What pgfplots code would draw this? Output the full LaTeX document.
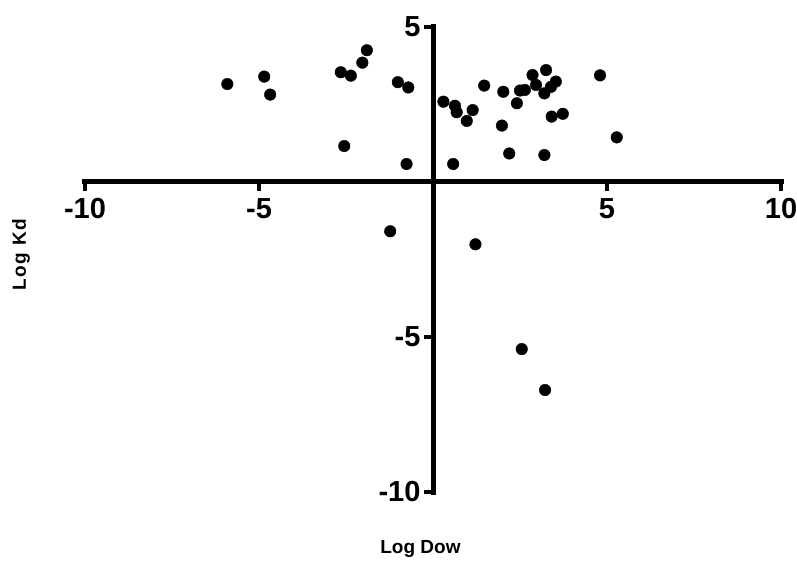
\documentclass[border=0pt]{standalone}
\usepackage{pgfplots}
\pgfplotsset{compat=1.18}
\usepackage{fontspec}
\setmainfont{Liberation Sans}
\begin{document}
\begin{tikzpicture}
\useasboundingbox (-85bp,-70bp) rectangle (712bp,492bp);
\begin{axis}[
    scale only axis,
    width=696bp, height=465bp,
    xmin=-10, xmax=10, ymin=-10, ymax=5,
    axis lines=middle,
    axis line style={-, line width=5bp, line cap=rect},
    xtick={-10,-5,5,10},
    ytick={-10,-5,5},
    tick align=outside,
    major tick length=9bp,
    tick style={line width=4bp, black},
    ticklabel style={font=\fontsize{29bp}{30bp}\selectfont\bfseries},
    /pgf/number format/assume math mode=true,
    xticklabel style={yshift=-4bp},
    xlabel={Log Dow},
    ylabel={\addfontfeature{LetterSpace=8}Log Kd},
    label style={font=\fontsize{19bp}{20bp}\selectfont\bfseries},
    xlabel style={at={(axis description cs:0.482,-0.122)}, anchor=center},
    ylabel style={at={(axis description cs:-0.092,0.51)}, anchor=center, rotate=90},
    clip=false,
]
\addplot[only marks, mark=*, mark size=5.8bp, black] coordinates {
(-5.91,3.16) (-4.85,3.40) (-4.68,2.82) (-2.65,3.54) (-2.36,3.43)
(-2.03,3.85) (-1.90,4.25) (-2.55,1.16) (-1.01,3.22) (-0.71,3.05)
(-0.76,0.58) (0.30,2.59) (0.63,2.46) (0.68,2.25) (0.97,1.97)
(1.14,2.32) (1.47,3.11) (2.02,2.91) (1.98,1.82) (2.41,2.54)
(2.50,2.95) (2.64,2.97) (2.86,3.45) (2.96,3.13) (3.20,2.86)
(3.25,3.61) (3.39,3.07) (3.53,3.24) (3.41,2.11) (3.73,2.20)
(4.80,3.44) (5.28,1.44) (0.58,0.58) (2.19,0.92) (3.20,0.87)
(-1.23,-1.59) (1.22,-2.01) (2.55,-5.39) (3.22,-6.71)
};
\end{axis}
\end{tikzpicture}
\end{document}
